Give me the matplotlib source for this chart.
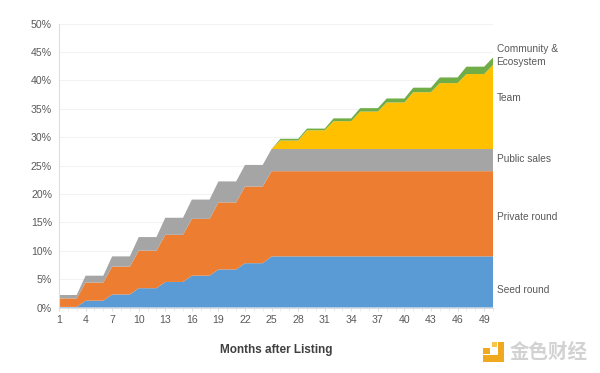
import matplotlib
matplotlib.use("Agg")
from matplotlib import pyplot as plt
from matplotlib.patches import Rectangle

plt.rcParams['font.family'] = ['Liberation Sans', 'Noto Sans CJK SC', 'DejaVu Sans']

months = list(range(1, 51))
seed = [0.1, 0.1, 0.1, 1.2, 1.2, 1.2, 2.3, 2.3, 2.3, 3.4, 3.4, 3.4, 4.5, 4.5, 4.5, 5.6, 5.6, 5.6,
        6.7, 6.7, 6.7, 7.8, 7.8, 7.8, 9, 9, 9, 9, 9, 9, 9, 9, 9, 9, 9, 9, 9,
        9, 9, 9, 9, 9, 9, 9, 9, 9, 9, 9, 9, 9]
private = [1.5, 1.5, 1.5, 3.2, 3.2, 3.2, 4.9, 4.9, 4.9, 6.6, 6.6, 6.6, 8.3, 8.3, 8.3, 10, 10, 10,
           11.8, 11.8, 11.8, 13.5, 13.5, 13.5, 15, 15, 15, 15, 15, 15, 15, 15, 15, 15, 15, 15, 15,
           15, 15, 15, 15, 15, 15, 15, 15, 15, 15, 15, 15, 15]
public = [0.6, 0.6, 0.6, 1.2, 1.2, 1.2, 1.8, 1.8, 1.8, 2.4, 2.4, 2.4, 3.0, 3.0, 3.0, 3.4, 3.4, 3.4,
          3.7, 3.7, 3.7, 3.8, 3.8, 3.8, 3.9, 3.9, 3.9, 3.9, 3.9, 3.9, 3.9, 3.9, 3.9, 3.9, 3.9, 3.9, 3.9,
          3.9, 3.9, 3.9, 3.9, 3.9, 3.9, 3.9, 3.9, 3.9, 3.9, 3.9, 3.9, 3.9]
team = [0] * 25 + [1.5, 1.5, 1.5, 3.3, 3.3, 3.3, 4.9, 4.9, 4.9, 6.6, 6.6, 6.6, 8.2, 8.2, 8.2,
                   10, 10, 10, 11.6, 11.6, 11.6, 13.2, 13.2, 13.2, 14.8]
community = [0] * 25 + [0.3, 0.3, 0.3, 0.3, 0.3, 0.3, 0.5, 0.5, 0.5, 0.6, 0.6, 0.6, 0.7, 0.7, 0.7,
                        0.8, 0.8, 0.8, 1.0, 1.0, 1.0, 1.3, 1.3, 1.3, 1.3]
colors = ["#5B9BD5", "#ED7D31", "#A5A5A5", "#FFC000", "#70AD47"]
series_labels = ["Seed round", "Private round", "Public sales", "Team", "Community &\nEcosystem"]
label_y = [3.1, 15.9, 26.2, 36.8, 44.4]
yticks = [0, 5, 10, 15, 20, 25, 30, 35, 40, 45, 50]
xticks = list(range(1, 50, 3))

W, H = 600, 373
fig = plt.figure(figsize=(W / 100, H / 100), dpi=100)
ax = fig.add_axes([59 / W, 1 - 307.5 / H, 434 / W, 284 / H])

ax.stackplot(months, seed, private, public, team, community, colors=colors, linewidth=0, zorder=2)
ax.set_xlim(1, 50)
ax.set_ylim(0, 50)
ax.set_yticks(yticks)
ax.set_yticklabels([f"{v}%" for v in yticks])
ax.set_xticks(xticks)
ax.set_xticks(months, minor=True)
ax.grid(axis="y", color="#F2F2F2", linewidth=0.7, zorder=0)
ax.tick_params(axis="y", length=0, labelsize=7.6, labelcolor="#595959", pad=5)
ax.tick_params(axis="x", which="major", length=2.5, color="#E0E0E0", labelsize=7.6, labelcolor="#595959", pad=3)
ax.tick_params(axis="x", which="minor", length=2, color="#E8E8E8")
for side in ["top", "right"]:
    ax.spines[side].set_visible(False)
ax.spines["left"].set_color("#DDDDDD")
ax.spines["bottom"].set_color("#DDDDDD")
ax.spines["left"].set_linewidth(0.8)
ax.spines["bottom"].set_linewidth(0.8)

for lab, y in zip(series_labels, label_y):
    ax.text(50.4, y, lab, fontsize=7.3, color="#595959", va="center", ha="left", linespacing=1.45)

fig.text(276 / W, 1 - 350 / H, "Months after Listing", fontsize=8.5, fontweight="bold",
         color="#404040", ha="center", va="center")

# watermark bottom right
gold = "#F0A81E"
fig.add_artist(Rectangle((483 / W, 1 - 362 / H), 21 / W, 7 / H, transform=fig.transFigure, color=gold, lw=0))
fig.add_artist(Rectangle((498 / W, 1 - 362 / H), 6 / W, 20 / H, transform=fig.transFigure, color=gold, lw=0))
fig.add_artist(Rectangle((483 / W, 1 - 354 / H), 7 / W, 6 / H, transform=fig.transFigure, color=gold, lw=0))
fig.add_artist(Rectangle((492 / W, 1 - 347 / H), 5 / W, 5 / H, transform=fig.transFigure, color="#F7C548", lw=0))
fig.text(549 / W, 1 - 352 / H, "金色财经", fontsize=14, color="#D2D2D2", fontweight="bold",
         ha="center", va="center", family=['Noto Sans CJK SC', 'DejaVu Sans'])

fig.savefig("out.png", dpi=100)
